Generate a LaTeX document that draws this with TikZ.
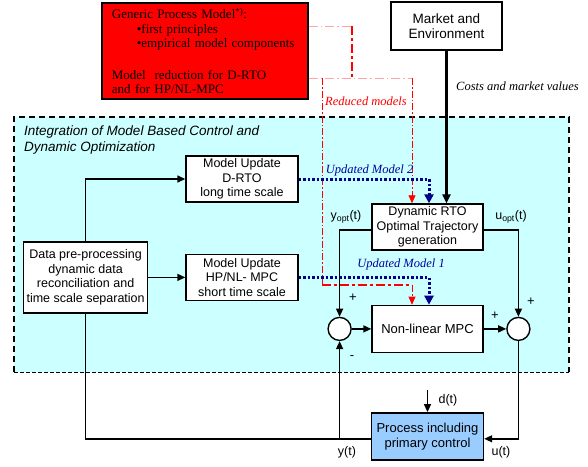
\documentclass[tikz,border=0pt]{standalone}
\usepackage{fontspec}
\setmainfont{Liberation Serif}
\setsansfont{Liberation Sans}
\usetikzlibrary{positioning, arrows.meta}
\definecolor{gpmred}{RGB}{255,0,0}
\definecolor{mbcbg}{RGB}{204,255,255}
\definecolor{procblue}{RGB}{153,204,255}
\definecolor{updnavy}{RGB}{0,0,139}
\definecolor{redlight}{RGB}{255,165,165}
\newcommand{\boxfont}{\sffamily\fontsize{12.5}{14.5}\selectfont}
\newcommand{\lblfont}{\rmfamily\itshape\fontsize{12.5}{14}\selectfont}

\begin{document}
\begin{tikzpicture}[x=1pt, y=-1pt,
  blk/.style={rectangle, draw, line width=1.4pt, fill=white, align=center,
              font=\boxfont, inner sep=1pt,
              minimum width=112pt, minimum height=46pt},
  sumnode/.style={circle, draw, line width=1.4pt, fill=white,
                  minimum size=23pt, inner sep=0pt},
  arr/.style={-{Triangle[length=8pt, width=7pt]}, line width=1.4pt},
  lnk/.style={line width=1.4pt},
  upd/.style={color=updnavy, line width=3pt, dash pattern=on 2.5pt off 2pt,
              -{Triangle[length=9pt, width=9pt]}},
  redm/.style={red, line width=0.8pt, dash pattern=on 7pt off 2pt on 1.5pt off 2pt},
  redk/.style={red, line width=2.5pt, dash pattern=on 9pt off 3pt on 3pt off 3pt},
  redl/.style={redlight, line width=0.8pt, dash pattern=on 9pt off 3pt on 1.5pt off 3pt},
  lbl/.style={font=\lblfont, inner sep=0pt},
  sgn/.style={font=\sffamily\fontsize{13}{13}\selectfont, inner sep=0pt}
]
  \useasboundingbox (0,0) rectangle (588,466);

  % integration area
  \fill[mbcbg] (14,117) rectangle (569,372);
  \draw[line width=2pt, dash pattern=on 6pt off 4pt] (14,372) -- (14,117) -- (569,117) -- (569,372);
  \draw[line width=0.6pt, dash pattern=on 4pt off 2pt] (14,372) -- (569,372);
  \node[anchor=north west, align=left, inner sep=0pt,
        font=\sffamily\itshape\fontsize{13.5}{15.5}\selectfont] (mbctitle) at (24,126)
        {Integration of Model Based Control and\\Dynamic Optimization};

  % model source and market
  \node[draw=black, line width=1.8pt, fill=gpmred, minimum width=206pt, minimum height=96pt,
        text width=192pt, inner xsep=7pt, align=left, anchor=north west,
        font=\rmfamily\fontsize{13}{14.5}\selectfont] (gpm) at (101,2)
        {\hspace*{3pt}Generic Process Model\textsuperscript{*)}:\\
         \hspace*{28pt}\textbullet first principles\\
         \hspace*{28pt}\textbullet empirical model components\\[17pt]
         \hspace*{3pt}Model\ \ reduction for D-RTO\\
         \hspace*{3pt}and for HP/NL-MPC};
  \node[blk, minimum width=111pt, minimum height=48pt,
        font=\sffamily\fontsize{13.5}{15}\selectfont] (market) at (446.5,26) {Market and\\Environment};

  % blocks
  \node[blk] (drto) at (242,179) {Model Update\\D-RTO\\long time scale};
  \node[blk, below=51pt of drto] (hp) {Model Update\\HP/NL- MPC\\short time scale};
  \node[blk, minimum width=124pt, minimum height=71pt, left=37pt of hp] (data)
        {Data pre-processing\\dynamic data\\reconciliation and\\time scale separation};
  \node[blk, minimum width=111pt] (rto) at (427.5,227) {Dynamic RTO\\Optimal Trajectory\\generation};
  \node[blk, minimum width=111pt, minimum height=47pt, below=54pt of rto,
        font=\sffamily\fontsize{13}{15}\selectfont] (mpc) {Non-linear MPC};
  \node[blk, minimum height=47pt, fill=procblue, below=59pt of mpc,
        font=\sffamily\fontsize{13}{15}\selectfont] (proc) {Process including\\primary control};
  \node[sumnode, left=19.5pt of mpc] (sum1) {};
  \node[sumnode, right=22.5pt of mpc] (sum2) {};

  % reduced models
  \coordinate (rk1) at (352,26);
  \coordinate (rk2) at (352,78);
  \coordinate (rl1) at (gpm.east |- rk1);
  \coordinate (rl2) at (gpm.east |- rk2);
  \coordinate (rtored) at ([xshift=-15.5pt]rto.north);
  \coordinate (mpcred) at ([xshift=-15.5pt]mpc.north);
  \coordinate (rsplit) at (322,78);
  \coordinate (rbend) at (322,285);
  \coordinate (rbend2) at (mpcred |- rbend);
  \draw[redl] (rl1) -- (rk1);
  \draw[redk] (rk1) -- (rk2);
  \draw[redl] (rl2) -- (rtored |- rk2);
  \draw[redm, -{Triangle[length=8pt, width=7pt]}] (rtored |- rk2) -- (rtored);
  \draw[redm] (rsplit) -- (rbend);
  \draw[redk] (rbend) -- (rbend2);
  \draw[redm, -{Triangle[length=8pt, width=7pt]}] (rbend2) -- (mpcred);
  \node[lbl, text=red] (redlbl) at (366,101) {Reduced models};

  % market values
  \draw[line width=3pt, -{Triangle[length=9pt, width=8pt]}] (market.south) -- (market.south |- rto.north);
  \node[lbl] (costlbl) at (517.5,86) {Costs and market values};

  % model updates
  \coordinate (rtoblue) at ([xshift=1.5pt]rto.north);
  \coordinate (mpcblue) at ([xshift=1.5pt]mpc.north);
  \draw[upd] (drto.east) -| (rtoblue);
  \draw[upd] (hp.east) -| (mpcblue);
  \node[lbl, text=updnavy!80!blue] (upd2lbl) at (369.5,170) {Updated Model 2};
  \node[lbl, text=updnavy!80!blue] (upd1lbl) at (401,264) {Updated Model 1};

  % data flow
  \draw[arr] (data.north) |- (drto.west);
  \draw[arr] (data.east) -- (hp.west);

  % control loop
  \draw[arr] ([yshift=-3pt]rto.west) -| (sum1.north);
  \draw[arr] ([yshift=-3pt]rto.east) -| (sum2.north);
  \node[font=\boxfont, inner sep=0pt] (yoptlbl) at (346,217) {y\textsubscript{opt}(t)};
  \node[font=\boxfont, inner sep=0pt] (uoptlbl) at (511,217) {u\textsubscript{opt}(t)};
  \draw[arr] (sum1.east) -- (mpc.west);
  \draw[arr] (mpc.east) -- (sum2.west);
  \coordinate (uret) at ([yshift=-2.5pt]proc.east);
  \coordinate (yout) at ([yshift=-2.5pt]proc.west);
  \coordinate (ytap) at (sum1.south |- yout);
  \draw[arr] (sum2.south) |- (uret);
  \draw[lnk] (yout) -| (data.south);
  \draw[arr] (ytap) -- (sum1.south);
  \coordinate (dsrc) at ([yshift=22pt]proc.north);
  \draw[arr] (dsrc) -- (proc.north);

  % signals and signs
  \node[font=\boxfont, inner sep=0pt] (dlbl) at (448,400) {d(t)};
  \node[font=\boxfont, inner sep=0pt] (ylbl) at (347,452) {y(t)};
  \node[font=\boxfont, inner sep=0pt] (ulbl) at (501,452) {u(t)};
  \node[sgn] (p1) at (353,298) {+};
  \node[sgn] (m1) at (352,358) {-};
  \node[sgn] (p2) at (495,316) {+};
  \node[sgn] (p3) at (531,302) {+};
\end{tikzpicture}
\end{document}
